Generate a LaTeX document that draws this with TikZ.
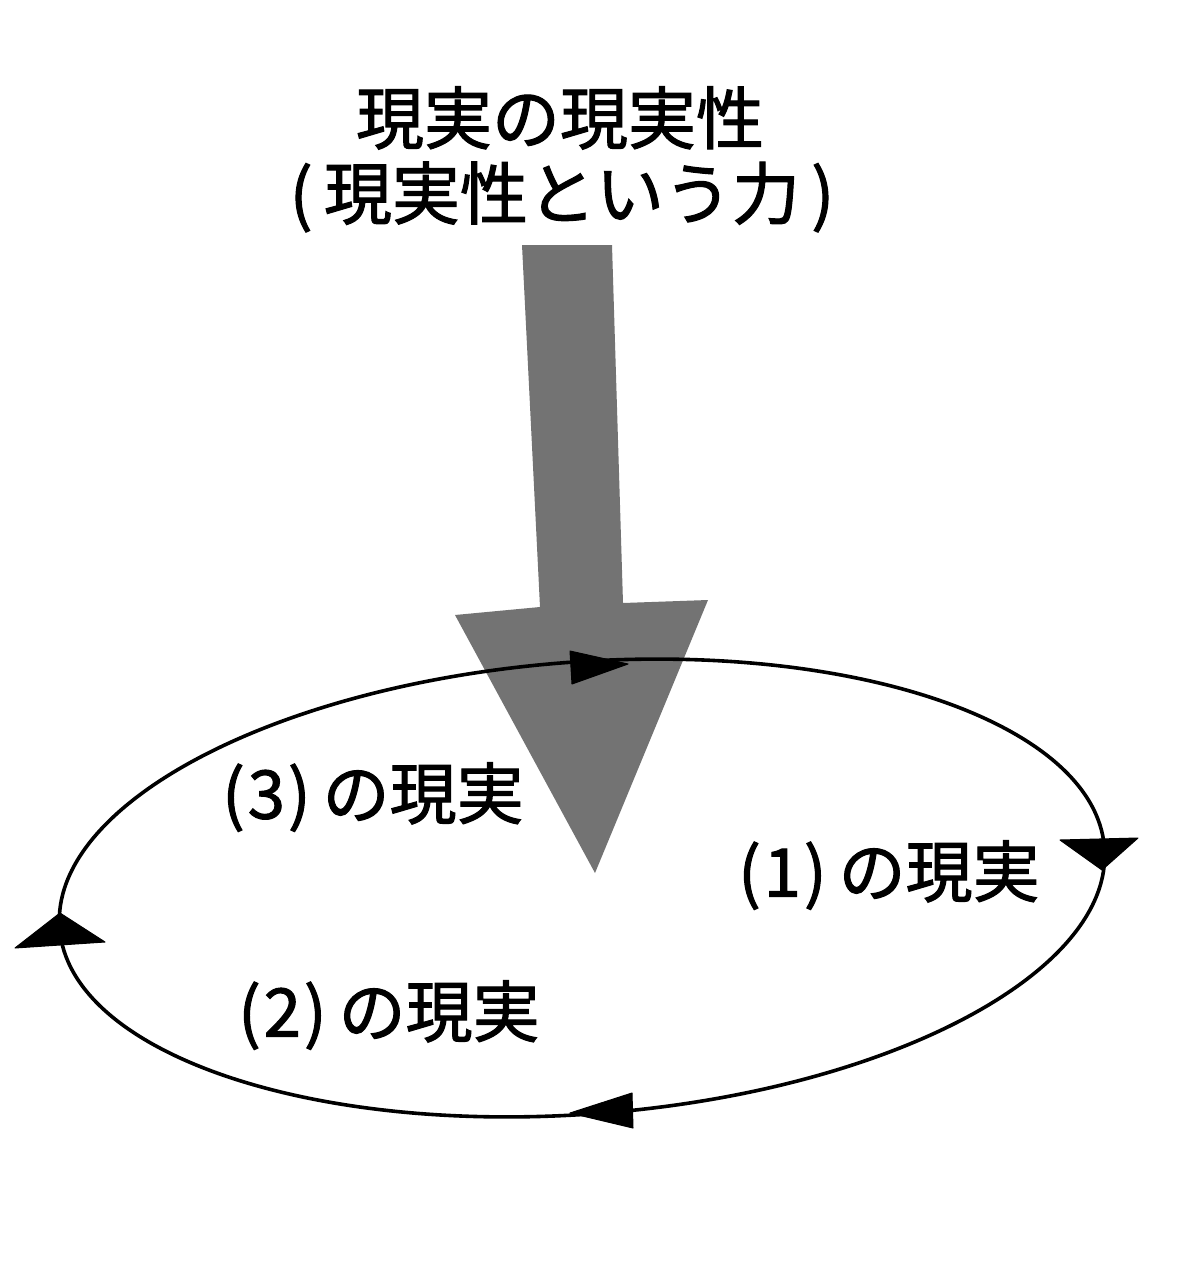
\documentclass[tikz,border=0pt]{standalone}
\usepackage{fontspec}
\setmainfont{Noto Sans CJK JP}[FakeBold=1.6]
\newcommand{\parnum}[1]{(\kern3pt#1\kern3pt)\hspace{12pt}}
\begin{document}
\begin{tikzpicture}[x=1pt,y=-1pt,
  title/.style={inner sep=0pt,font=\fontsize{68}{80}\selectfont},
  lab/.style={inner sep=0pt,anchor=west,font=\fontsize{67}{76}\selectfont},
  bigarrow/.style={fill=black!55,draw=none},
  loopline/.style={line width=3.6pt},
  ahead/.style={fill=black,draw=black,line width=1pt,line join=round}]
\useasboundingbox[fill=white] (0,0) rectangle (1200,1274);
% big arrow
\fill[bigarrow] (522,245) -- (612,245) -- (623,603) -- (708,600) -- (595,873) -- (455,615) -- (540,607) -- cycle;
% cycle
\draw[loopline,shift={(582,888)},rotate=4.4] (0,0) ellipse[x radius=524,y radius=226];
% arrowheads on the cycle
\filldraw[ahead] (570,651) -- (628,664) -- (572,684) -- cycle;
\filldraw[ahead] (1060,840) -- (1138,838) -- (1102,870) -- cycle;
\filldraw[ahead] (632,1093) -- (570,1113) -- (633,1128) -- cycle;
\filldraw[ahead] (15,948) -- (60,913) -- (105,942) -- cycle;
% texts
\node[title] (t1) at (560,118) {現実の現実性};
\node[title] (t2) at (562,197) {(\,現実性という力\,)};
\node[lab] (l3) at (222,797) {\parnum{3}の現実};
\node[lab] (l1) at (738,875) {\parnum{1}の現実};
\node[lab] (l2) at (238,1015) {\parnum{2}の現実};
\end{tikzpicture}
\end{document}
